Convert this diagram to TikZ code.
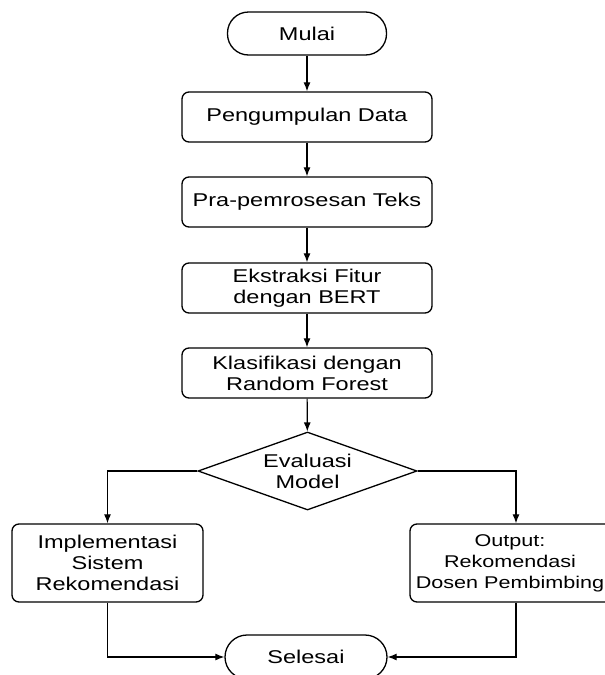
\documentclass[tikz,border=0pt]{standalone}
\usepackage{fontspec}
\setmainfont[FakeStretch=1.27]{Liberation Sans}
\usetikzlibrary{shapes.geometric,arrows.meta}
\begin{document}
\begin{tikzpicture}[x=1pt,y=-1pt,
  every node/.style={font=\fontsize{18.5}{21}\selectfont, align=center, inner sep=0pt},
  terminal/.style={draw, line width=1.3pt, rounded corners=21pt, minimum width=159pt, minimum height=43pt},
  procbox/.style={draw, line width=1.3pt, rounded corners=7pt, minimum width=250pt, minimum height=50pt},
  sidebox/.style={draw, line width=1.3pt, rounded corners=7pt, minimum height=78pt},
  decision/.style={draw, line width=1.3pt, diamond, aspect=2.8, minimum width=219pt, minimum height=78pt},
  conn/.style={line width=1.2pt, -{Latex[length=9pt,width=7pt]}}]
\fill[white] (0,0) rectangle (605,675);
\useasboundingbox (0,0) rectangle (605,675);
\node[terminal] (start) at (307,33.5) {Mulai};
\node[procbox] (p1) at (307,117) {Pengumpulan Data};
\node[procbox] (p2) at (307,202) {Pra-pemrosesan Teks};
\node[procbox] (p3) at (307,288) {Ekstraksi Fitur\\dengan BERT};
\node[procbox] (p4) at (307,373) {Klasifikasi dengan\\Random Forest};
\node[decision] (dec) at (307.5,471) {Evaluasi\\Model};
\node[sidebox, minimum width=191pt] (left) at (107.5,563) {Implementasi\\Sistem\\Rekomendasi};
\node[sidebox, minimum width=212pt, font=\fontsize{17}{21}\selectfont] (right) at (516,563) {\hspace*{-12pt}Output:\\\hspace*{-12pt}Rekomendasi\\\hspace*{-12pt}Dosen Pembimbing};
\node[terminal, minimum width=162pt, minimum height=44pt, rounded corners=22pt] (end) at (306,657) {Selesai};
\draw[conn] (start) -- (p1);
\draw[conn] (p1) -- (p2);
\draw[conn] (p2) -- (p3);
\draw[conn] (p3) -- (p4);
\draw[conn] (p4) -- (dec);
\draw[conn] (dec.west) -| (left.north);
\draw[conn] (dec.east) -| (right.north);
\draw[conn] (left.south) |- (end.west);
\draw[conn] (right.south) |- (end.east);
\end{tikzpicture}
\end{document}
